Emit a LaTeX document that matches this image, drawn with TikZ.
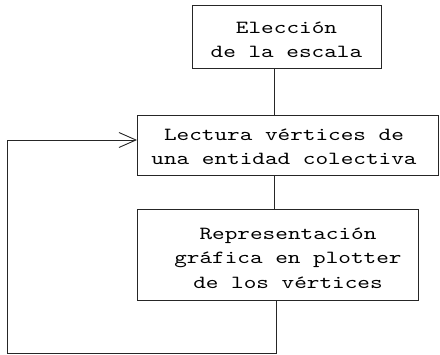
\documentclass[tikz,border=0pt]{standalone}
\usepackage{fontspec}
\setmonofont[FakeStretch=1.3]{lmmono10-regular.otf}
\usetikzlibrary{arrows.meta}
\tikzset{
  box/.style={draw=black!85, line width=0.9pt, inner sep=0pt},
  txt/.style={align=center, inner sep=0pt, font=\ttfamily\fontsize{18.5pt}{24.5pt}\selectfont},
  link/.style={draw=black!85, line width=0.9pt},
  back/.style={link, -{Straight Barb[length=17pt,width=15pt,line width=0.9pt]}}
}
\begin{document}
\begin{tikzpicture}[x=1pt,y=-1pt]
\useasboundingbox (0,0) rectangle (440,355);
\node[box, minimum width=189pt, minimum height=63pt] (b1) at (286.5,36.5) {};
\node[txt] (t1) at (286.5,40) {Elección\\de la escala};
\node[box, minimum width=301pt, minimum height=60pt] (b2) at (288,145) {};
\node[txt] (t2) at (284,147) {Lectura vértices de\\una entidad colectiva};
\node[box, minimum width=281pt, minimum height=91pt] (b3) at (277.5,254.5) {};
\node[txt] (t3) at (288,258) {Representación\\gráfica en plotter\\de los vértices};
\coordinate (c1) at (7,353);
\coordinate (c2) at (7,140);
\draw[link] ([xshift=-12.5pt]b1.south) -- ([xshift=-12.5pt]b1.south |- b2.north);
\draw[link] ([xshift=-14pt]b2.south) -- ([xshift=-14pt]b2.south |- b3.north);
\draw[back] ([xshift=-1.5pt]b3.south) -- ([xshift=-1.5pt]b3.south |- c1) -- (c1) -- (c2) -- (c2 -| b2.west);
\end{tikzpicture}
\end{document}
